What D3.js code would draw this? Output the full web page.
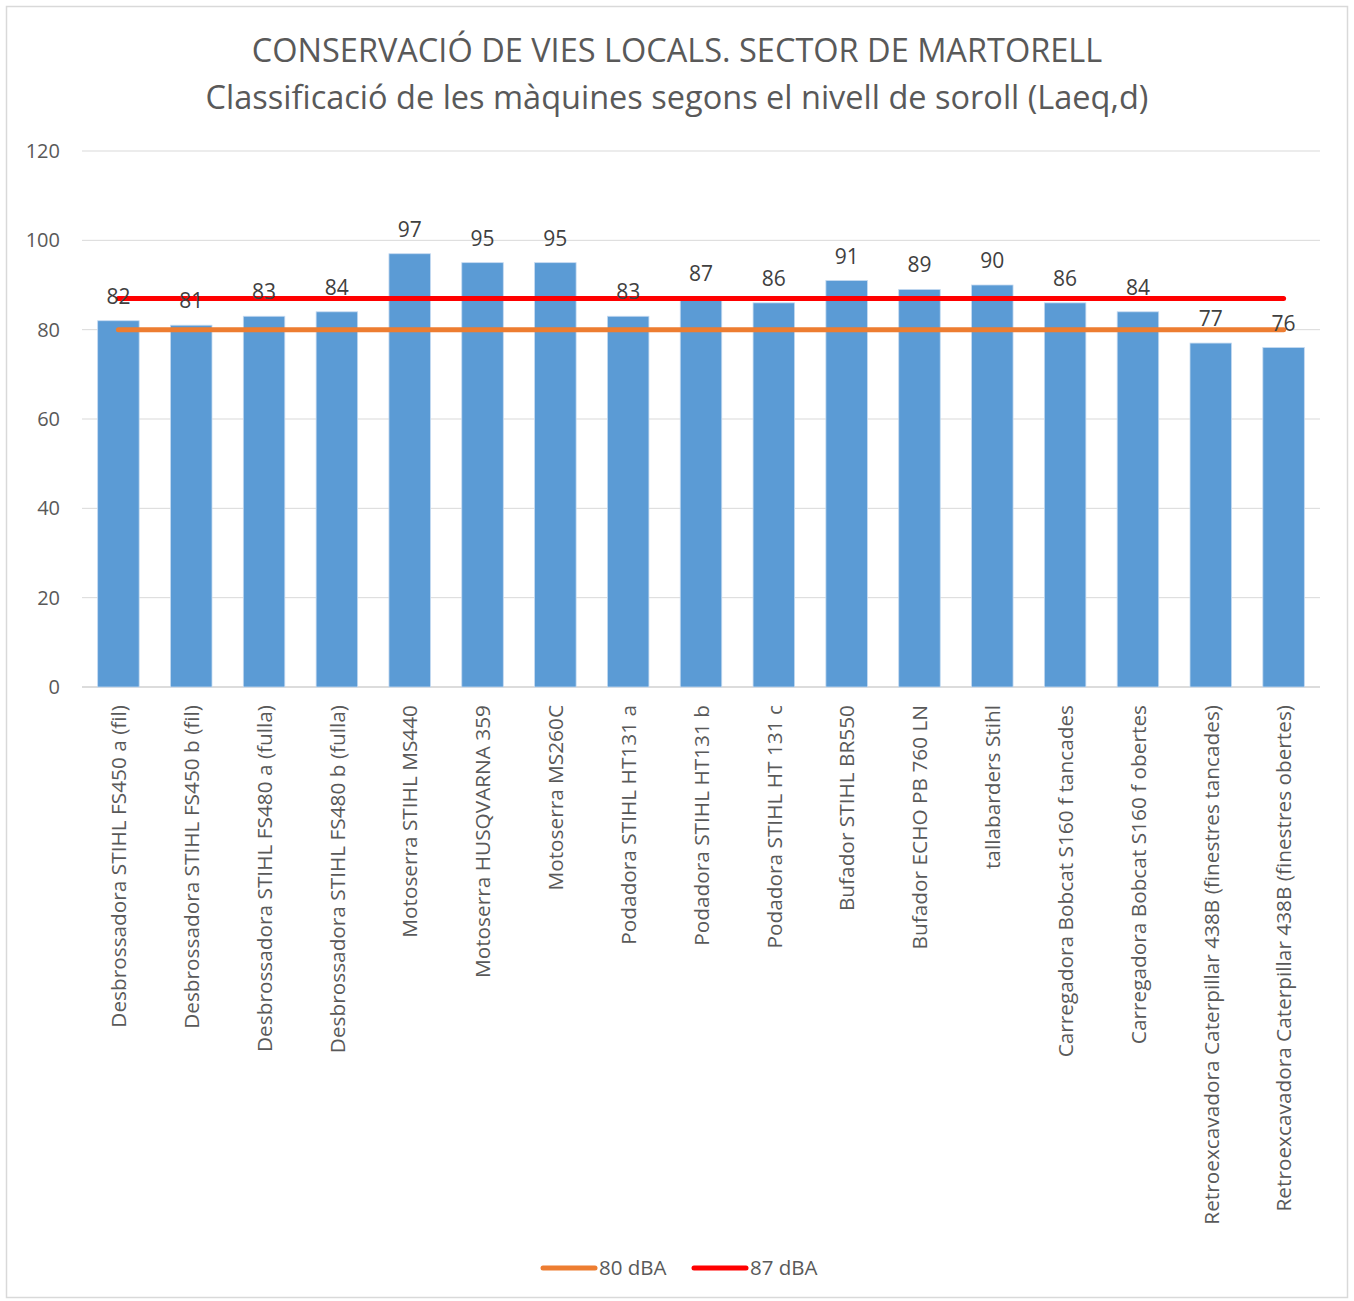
<!DOCTYPE html>
<html>
<head>
<meta charset="utf-8">
<script src="https://cdn.jsdelivr.net/npm/d3@7"></script>
<style>
  body { margin: 0; background: #fff; }
  text { font-family: "Open Sans", "Noto Sans", sans-serif; }
</style>
</head>
<body>
<div id="chart"></div>
<script>
var categories = [
  "Desbrossadora STIHL FS450 a (fil)",
  "Desbrossadora STIHL FS450 b (fil)",
  "Desbrossadora STIHL FS480 a (fulla)",
  "Desbrossadora STIHL FS480 b (fulla)",
  "Motoserra STIHL MS440",
  "Motoserra HUSQVARNA 359",
  "Motoserra MS260C",
  "Podadora STIHL HT131 a",
  "Podadora STIHL HT131 b",
  "Podadora STIHL HT 131 c",
  "Bufador STIHL BR550",
  "Bufador ECHO PB 760 LN",
  "tallabarders Stihl",
  "Carregadora Bobcat S160 f tancades",
  "Carregadora Bobcat S160 f obertes",
  "Retroexcavadora Caterpillar 438B (finestres tancades)",
  "Retroexcavadora Caterpillar 438B (finestres obertes)"
]
var levels = [82, 81, 83, 84, 97, 95, 95, 83, 87, 86, 91, 89, 90, 86, 84, 77, 76]
var limits = [
  { name: "80 dBA", value: 80, color: "#ED7D31" },
  { name: "87 dBA", value: 87, color: "#FF0000" }
]
var yTicks = [0, 20, 40, 60, 80, 100, 120]
var titleLines = [
  "CONSERVACIÓ DE VIES LOCALS. SECTOR DE MARTORELL",
  "Classificació de les màquines segons el nivell de soroll (Laeq,d)"
]

var width = 1354, height = 1301
var margin = { left: 82, right: 34, top: 151, bottom: 614 }

var svg = d3.select("#chart")
  .append("svg")
  .attr("width", width)
  .attr("height", height)

// outer frame
svg.append("rect")
  .attr("x", 6.5).attr("y", 6.5)
  .attr("width", width - 13).attr("height", height - 10)
  .attr("fill", "#fff")
  .attr("stroke", "#d9d9d9")
  .attr("stroke-width", 1.5)

svg.selectAll(".title")
  .data(titleLines)
  .enter()
  .append("text")
  .attr("class", "title")
  .attr("x", 677)
  .attr("y", function(d, i) { return 62 + i * 47 })
  .attr("text-anchor", "middle")
  .attr("font-size", 32.5)
  .attr("fill", "#595959")
  .text(function(d) { return d })

var x = d3.scaleBand()
  .domain(categories)
  .range([margin.left, width - margin.right])
  .paddingInner(0.43)
  .paddingOuter(0.215)

var xc = d3.scalePoint()
  .domain(categories)
  .range([margin.left, width - margin.right])
  .padding(0.5)

var y = d3.scaleLinear()
  .domain([0, 120])
  .range([height - margin.bottom, margin.top])

// gridlines
svg.append("g")
  .selectAll("line")
  .data(yTicks)
  .enter()
  .append("line")
  .attr("x1", margin.left)
  .attr("x2", width - margin.right)
  .attr("y1", function(d) { return y(d) })
  .attr("y2", function(d) { return y(d) })
  .attr("stroke", function(d) { return d == 0 ? "#d0d0d0" : "#d9d9d9" })
  .attr("stroke-width", function(d) { return d == 0 ? 1.5 : 1 })

var yAxis = svg.append("g")
  .attr("transform", "translate(" + margin.left + ",0)")
  .call(d3.axisLeft(y).tickValues(yTicks).tickSize(0).tickPadding(22))
yAxis.select(".domain").remove()
yAxis.selectAll("text")
  .attr("font-size", 20)
  .attr("fill", "#595959")
  .style("font-family", "'Open Sans', sans-serif")

// bars
svg.append("g")
  .selectAll("rect")
  .data(levels)
  .enter()
  .append("rect")
  .attr("x", function(d, i) { return x(categories[i]) })
  .attr("y", function(d) { return y(d) })
  .attr("width", x.bandwidth())
  .attr("height", function(d) { return y(0) - y(d) })
  .attr("fill", "#5B9BD5")
  .attr("stroke", "#c5daf0")
  .attr("stroke-width", 0.8)

// limit lines
var line = d3.line()
  .x(function(d) { return xc(d.cat) })
  .y(function(d) { return y(d.v) })

limits.forEach(function(l) {
  svg.append("path")
    .datum(categories.map(function(c) { return { cat: c, v: l.value } }))
    .attr("d", line)
    .attr("fill", "none")
    .attr("stroke", l.color)
    .attr("stroke-width", 5)
    .attr("stroke-linecap", "round")
})

// value labels
svg.append("g")
  .selectAll("text")
  .data(levels)
  .enter()
  .append("text")
  .attr("x", function(d, i) { return xc(categories[i]) })
  .attr("y", function(d) { return y(d) - 17 })
  .attr("text-anchor", "middle")
  .attr("font-size", 21)
  .attr("fill", "#404040")
  .text(function(d) { return d })

// category labels
var xAxis = svg.append("g")
  .attr("transform", "translate(0," + y(0) + ")")
  .call(d3.axisBottom(xc).tickSize(0).tickPadding(0))
xAxis.select(".domain").remove()
xAxis.selectAll("text")
  .attr("font-size", 20.8)
  .attr("fill", "#595959")
  .style("font-family", "'Open Sans', sans-serif")
  .attr("text-anchor", "end")
  .attr("transform", "translate(0,18) rotate(-90)")
  .attr("x", 0)
  .attr("y", 0)
  .attr("dy", "0.35em")

// legend
var legend = svg.append("g")
var legendX = [541, 692]
limits.forEach(function(l, i) {
  var g = legend.append("g").attr("transform", "translate(" + legendX[i] + ",1268)")
  g.append("line")
    .attr("x1", 2).attr("x2", 54)
    .attr("stroke", l.color)
    .attr("stroke-width", 5)
    .attr("stroke-linecap", "round")
  g.append("text")
    .attr("x", 58)
    .attr("dy", "0.35em")
    .attr("font-size", 20.5)
    .attr("fill", "#595959")
    .text(l.name)
})
</script>
</body>
</html>
